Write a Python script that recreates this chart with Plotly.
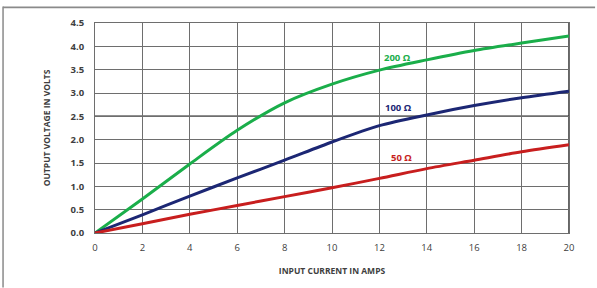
import plotly.graph_objects as go

current = [0, 2, 4, 6, 8, 10, 12, 14, 16, 18, 20]
v_200 = [0, 0.73, 1.48, 2.2, 2.79, 3.19, 3.49, 3.71, 3.91, 4.07, 4.22]
v_100 = [0, 0.39, 0.79, 1.18, 1.56, 1.95, 2.3, 2.53, 2.73, 2.9, 3.04]
v_50 = [0, 0.2, 0.4, 0.59, 0.78, 0.97, 1.17, 1.38, 1.56, 1.74, 1.89]
series_names = ["200 Ω", "100 Ω", "50 Ω"]
colors = ["#1aae4a", "#1c2774", "#c81e1e"]
label_pos = [(12.75, 3.77), (12.8, 2.7), (12.95, 1.61)]

fig = go.Figure()
for name, ys, c in zip(series_names, [v_200, v_100, v_50], colors):
    fig.add_trace(go.Scatter(x=current, y=ys, mode="lines", name=name,
                             line=dict(color=c, width=3, shape="spline", smoothing=0.8)))

for name, c, (lx, ly) in zip(series_names, colors, label_pos):
    fig.add_annotation(x=lx, y=ly, text="<b>%s</b>" % name, showarrow=False,
                       font=dict(family="Open Sans", size=9.5, color=c))

# darker horizontal rule at 2.5 and right edge
fig.add_shape(type="line", x0=0, x1=20, y0=2.5, y1=2.5, line=dict(color="#222", width=1.5), layer="below")
fig.add_shape(type="line", x0=20, x1=20, y0=0, y1=4.5, line=dict(color="#333", width=1.5), layer="below")
# outer frame (top and left edges)
fig.add_shape(type="rect", xref="paper", yref="paper", x0=-0.194, x1=1.055, y0=1.07, y1=1.078,
              line=dict(width=0), fillcolor="#8a8a8a")
fig.add_shape(type="line", xref="paper", yref="paper", x0=-0.194, x1=-0.194, y0=-0.26, y1=1.078,
              line=dict(color="#8a8a8a", width=1.5))

fig.update_layout(
    width=597, height=288,
    margin=dict(l=95, r=28, t=23, b=55, autoexpand=False),
    paper_bgcolor="white", plot_bgcolor="white",
    showlegend=False,
    font=dict(family="Open Sans", color="#404040"),
)
fig.update_xaxes(range=[0, 20], tickvals=current, ticks="", showgrid=True, gridcolor="#6e6e6e", gridwidth=1,
                 showline=True, linecolor="#6e6e6e", linewidth=1, mirror=True, zeroline=False, automargin=False,
                 tickfont=dict(size=9.5, family="Open Sans", color="#404040"), ticklabelstandoff=6,
                 tickprefix="<b>", ticksuffix="</b>",
                 title=dict(text="<b>INPUT CURRENT IN AMPS</b>", font=dict(size=8.5, family="Open Sans", color="#404040"), standoff=14))
fig.update_yaxes(range=[0, 4.5], dtick=0.5, tickformat=".1f", ticks="", showgrid=True, gridcolor="#6e6e6e", gridwidth=1,
                 showline=True, linecolor="#6e6e6e", linewidth=1, mirror=True, zeroline=False, automargin=False,
                 tickfont=dict(size=9.5, family="Open Sans", color="#404040"), ticklabelstandoff=8,
                 tickprefix="<b>", ticksuffix="</b>",
                 title=dict(text="<b>OUTPUT VOLTAGE IN VOLTS</b>", font=dict(size=8.5, family="Open Sans", color="#404040"), standoff=18))

fig.write_html("out.html", config={"displayModeBar": False},
               post_script="document.body.style.margin='0';")
